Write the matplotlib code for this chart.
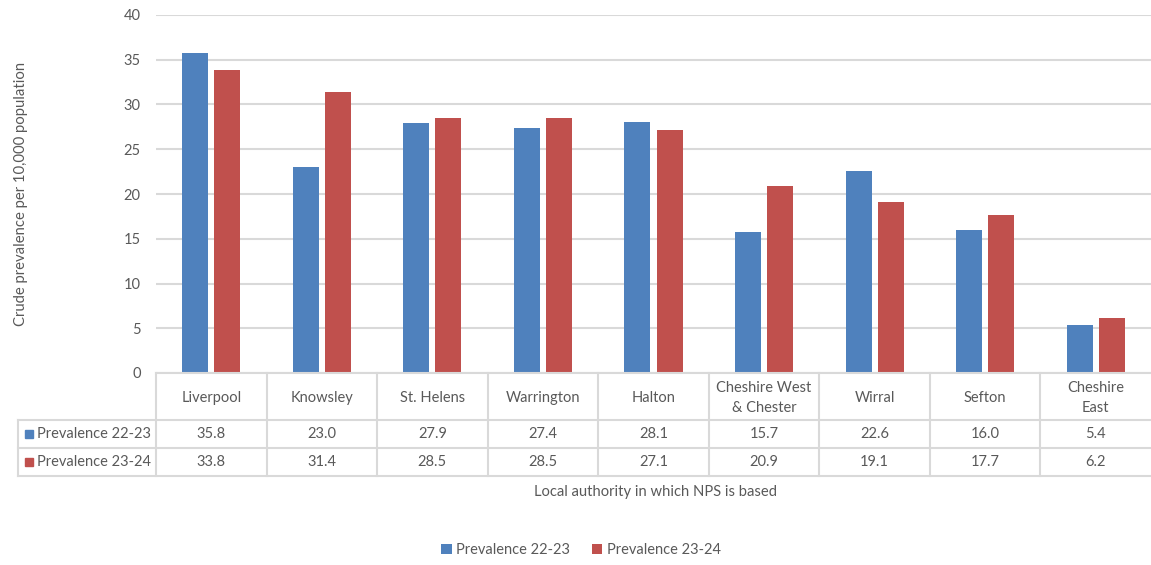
import numpy as np
import matplotlib.pyplot as plt
from matplotlib import rc
from matplotlib.patches import Rectangle

rc("font", size=10, family=["Lato", "DejaVu Sans"])

areas = ["Liverpool", "Knowsley", "St. Helens", "Warrington", "Halton",
         "Cheshire West\n& Chester", "Wirral", "Sefton", "Cheshire\nEast"]
prev_2223 = [35.8, 23.0, 27.9, 27.4, 28.1, 15.7, 22.6, 16.0, 5.4]
prev_2324 = [33.8, 31.4, 28.5, 28.5, 27.1, 20.9, 19.1, 17.7, 6.2]
series = ["Prevalence 22-23", "Prevalence 23-24"]

blue = "#4F81BD"
red = "#C0504D"
grey_txt = "#595959"
grid_c = "#D9D9D9"

W, H = 1151, 565
fig = plt.figure(figsize=(W / 100, H / 100), dpi=100)

# pixel layout of the plot area
x0, x1 = 156, 1151
ytop, ybot = 15, 373
ax = fig.add_axes([x0 / W, 1 - ybot / H, (x1 - x0) / W, (ybot - ytop) / H])

x = np.arange(len(areas))
w = 0.235
off = 0.145
ax.bar(x - off, prev_2223, w, color=blue, label=series[0], zorder=3)
ax.bar(x + off, prev_2324, w, color=red, label=series[1], zorder=3)

ax.set_xlim(-0.5, len(areas) - 0.5)
ax.set_ylim(0, 40)
ax.set_yticks(range(0, 41, 5))
ax.yaxis.grid(True, color=grid_c, lw=1.5, zorder=0)
ax.set_xticks([])
for s in ax.spines.values():
    s.set_visible(False)
ax.tick_params(axis="y", length=0, pad=11, labelcolor=grey_txt, labelsize=10.5)
ax.set_ylabel("Crude prevalence per 10,000 population", color=grey_txt,
              fontsize=10.7, labelpad=69)

# data table under the bars
tx0 = 18
unit = (x1 - x0) / len(areas)
tab = fig.add_axes([tx0 / W, 1 - 477 / H, (x1 - tx0) / W, (477 - ybot) / H])
left = -0.5 - (x0 - tx0) / unit
tab.set_xlim(left, len(areas) - 0.5)
tab.set_ylim(477, 373)
tab.axis("off")

rows = [373, 420, 448, 476]
lw = 1.5
# horizontal rules
tab.plot([-0.5, len(areas) - 0.5], [rows[0]] * 2, color=grid_c, lw=lw, clip_on=False)
for r in rows[1:]:
    tab.plot([left, len(areas) - 0.5], [r, r], color=grid_c, lw=lw, clip_on=False)
# vertical rules
tab.plot([left, left], [rows[1], rows[3]], color=grid_c, lw=lw, clip_on=False)
for i in range(len(areas)):
    tab.plot([i - 0.5, i - 0.5], [rows[0], rows[3]], color=grid_c, lw=lw, clip_on=False)

for i, name in enumerate(areas):
    tab.text(i, (rows[0] + rows[1]) / 2 + 1.5, name, ha="center", va="center",
             color=grey_txt, fontsize=10.5, linespacing=1.6)
    tab.text(i, (rows[1] + rows[2]) / 2, f"{prev_2223[i]:.1f}", ha="center",
             va="center", color=grey_txt, fontsize=10.5)
    tab.text(i, (rows[2] + rows[3]) / 2, f"{prev_2324[i]:.1f}", ha="center",
             va="center", color=grey_txt, fontsize=10.5)

sq = 8 / unit
for k, (lab, col) in enumerate(zip(series, [blue, red])):
    yc = (rows[k + 1] + rows[k + 2]) / 2
    tab.add_patch(Rectangle((left + 7 / unit, yc - 4), sq, 8, color=col, clip_on=False))
    tab.text(left + 19 / unit, yc, lab, ha="left", va="center",
             color=grey_txt, fontsize=10.5)

fig.text(655 / W, 1 - 492 / H, "Local authority in which NPS is based",
         ha="center", va="center", color=grey_txt, fontsize=10.6)

fig.legend(loc="center", bbox_to_anchor=(581 / W, 1 - 550 / H), ncol=2, frameon=False,
           handlelength=0.7, handleheight=0.7, handletextpad=0.3, columnspacing=1.5,
           labelcolor=grey_txt, fontsize=10.5)

fig.savefig("out.png", dpi=100)
